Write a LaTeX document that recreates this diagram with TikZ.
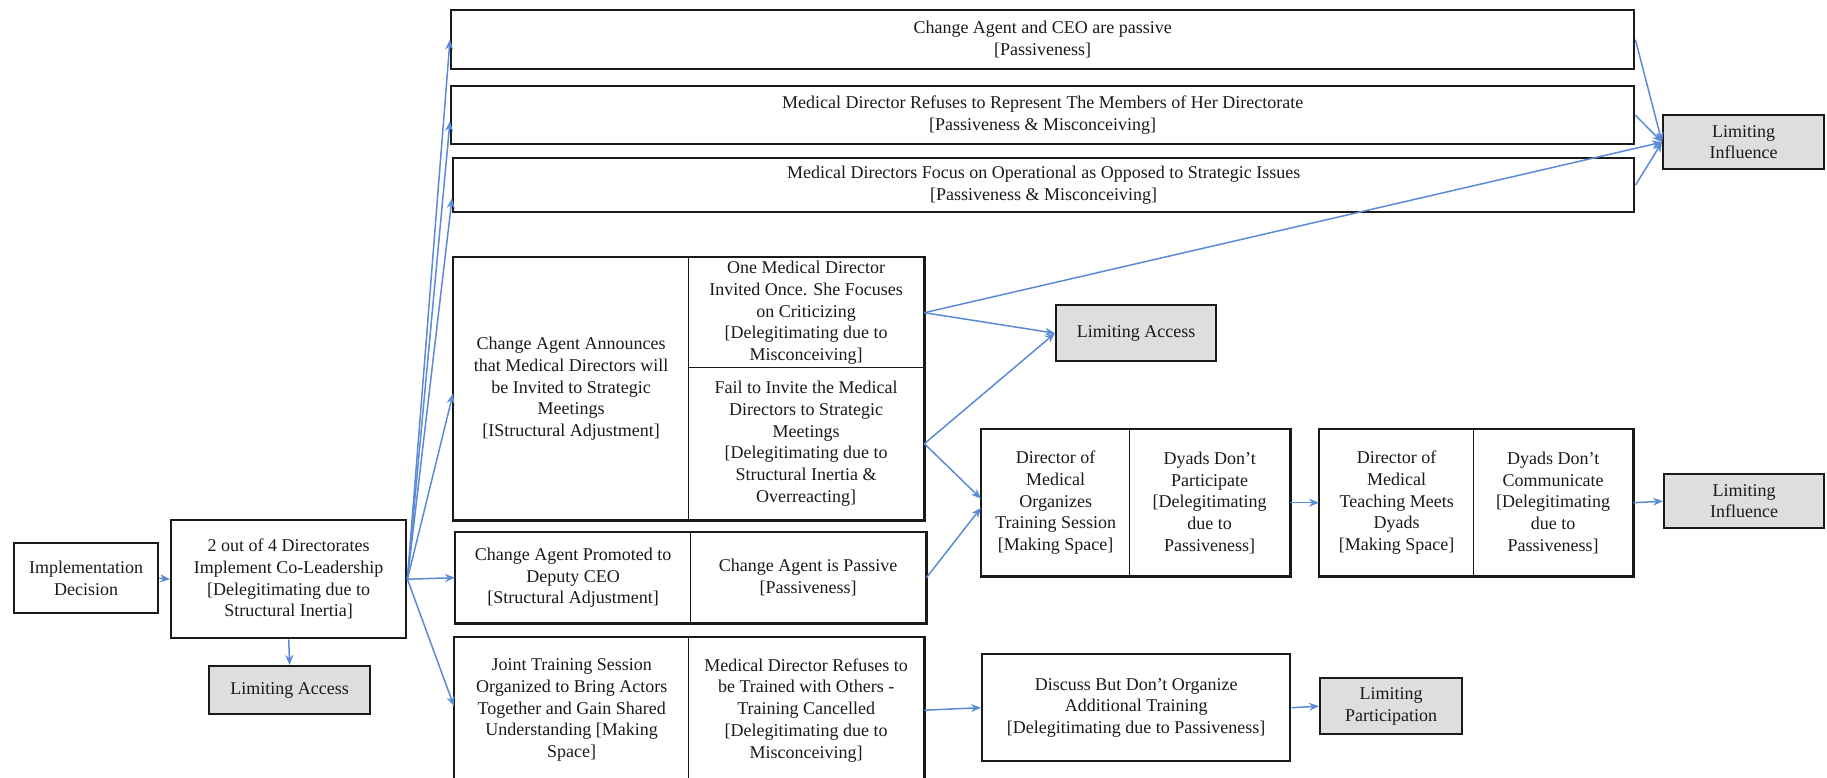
\documentclass[tikz,border=0pt]{standalone}
\usepackage{fontspec}
\setmainfont{Liberation Serif}
\usetikzlibrary{arrows.meta,calc}
\definecolor{flow}{HTML}{5B8BD6}
\definecolor{limitfill}{HTML}{DEDEDE}
\definecolor{ink}{HTML}{1A1A1A}
\begin{document}
\begin{tikzpicture}[x=1pt,y=-1pt,
  txt/.style={font=\fontsize{18}{21.7}\selectfont, align=center, text=ink, inner sep=0pt},
  wh/.style 2 args={minimum width=#1pt, minimum height=#2pt},
  box/.style={txt, draw=ink, line width=2.4pt, anchor=north west},
  cell/.style={txt, draw=ink, line width=1.4pt, anchor=north west},
  limitbox/.style={box, fill=limitfill},
  frame/.style={draw=ink, line width=2.4pt},
  flowarrow/.style={draw=flow, line width=1.5pt, -{Stealth[length=10pt,width=8pt]}},
]
\useasboundingbox (0,0) rectangle (1827,778);

% left column
\node[box, wh={144}{70}] (impl) at (13,542) {Implementation\\Decision};
\node[box, wh={235}{118}] (coimpl) at (170,519) {2 out of 4 Directorates\\Implement Co-Leadership\\{}[Delegitimating due to\\Structural Inertia]};
\node[limitbox, wh={161}{48}] (accessA) at (208,665) {Limiting Access};

% wide boxes at the top
\node[box, wh={1183}{59}] (passiveTop) at (450,9) {Change Agent and CEO are passive\\{}[Passiveness]};
\node[box, wh={1183}{58}] (refuseTop) at (450,85) {Medical Director Refuses to Represent The Members of Her Directorate\\{}[Passiveness \& Misconceiving]};
\node[box, wh={1181}{54}] (focusTop) at (452,157) {Medical Directors Focus on Operational as Opposed to Strategic Issues\\{}[Passiveness \& Misconceiving]};
\node[limitbox, wh={161}{54}] (influenceA) at (1662,114) {Limiting\\Influence};

% announcement block
\node[cell, wh={235}{262}] (announce) at (453,257) {Change Agent Announces\\that Medical Directors will\\be Invited to Strategic\\Meetings\\{}[IStructural Adjustment]};
\node[cell, wh={235}{110}] (invitedOnce) at (688,257) {One Medical Director\\Invited Once. She Focuses\\on Criticizing\\{}[Delegitimating due to\\Misconceiving]};
\node[cell, wh={235}{152}] (failInvite) at (688,367) {Fail to Invite the Medical\\Directors to Strategic\\Meetings\\{}[Delegitimating due to\\Structural Inertia \&\\Overreacting]};
\draw[frame] (announce.north west) rectangle (failInvite.south east);
\node[limitbox, wh={160}{56}] (accessB) at (1055,304) {Limiting Access};

% promotion block
\node[cell, wh={235}{90}] (promoted) at (455,532) {Change Agent Promoted to\\Deputy CEO\\{}[Structural Adjustment]};
\node[cell, wh={235}{90}] (agentPassive) at (690,532) {Change Agent is Passive\\{}[Passiveness]};
\draw[frame] (promoted.north west) rectangle (agentPassive.south east);

% joint training block
\node[cell, wh={234}{145}] (jointL) at (454,637) {Joint Training Session\\Organized to Bring Actors\\Together and Gain Shared\\Understanding [Making\\Space]};
\node[cell, wh={235}{145}] (jointR) at (688,637) {Medical Director Refuses to\\be Trained with Others -\\Training Cancelled\\{}[Delegitimating due to\\Misconceiving]};
\draw[frame] (jointL.north west) rectangle (jointR.south east);

% director blocks
\node[cell, wh={148}{146}] (dirOrg) at (981,429) {Director of\\Medical\\Organizes\\Training Session\\{}[Making Space]};
\node[cell, wh={160}{146}] (dyadsPart) at (1129,429) {Dyads Don’t\\Participate\\{}[Delegitimating\\due to\\Passiveness]};
\draw[frame] (dirOrg.north west) rectangle (dyadsPart.south east);
\node[cell, wh={154}{146}] (dirTeach) at (1319,429) {Director of\\Medical\\Teaching Meets\\Dyads\\{}[Making Space]};
\node[cell, wh={159}{146}] (dyadsComm) at (1473,429) {Dyads Don’t\\Communicate\\{}[Delegitimating\\due to\\Passiveness]};
\draw[frame] (dirTeach.north west) rectangle (dyadsComm.south east);
\node[limitbox, wh={160}{54}] (influenceB) at (1663,473) {Limiting\\Influence};

% additional training
\node[box, wh={308}{107}] (discuss) at (981,653) {Discuss But Don’t Organize\\Additional Training\\{}[Delegitimating due to Passiveness]};
\node[limitbox, wh={142}{56}] (participation) at (1319,677) {Limiting\\Participation};

% connectors
\draw[flowarrow] (impl.east) -- (coimpl.west);
\draw[flowarrow] (coimpl.south) -- (accessA.north);
\draw[flowarrow] (coimpl.east) -- (passiveTop.west);
\draw[flowarrow] (coimpl.east) -- ([yshift=-6pt]refuseTop.west);
\draw[flowarrow] (coimpl.east) -- ([yshift=-13pt]focusTop.west);
\draw[flowarrow] (coimpl.east) -- ([yshift=-5pt]announce.west);
\draw[flowarrow] (coimpl.east) -- (promoted.west);
\draw[flowarrow] (coimpl.east) -- ([yshift=4pt]jointL.west);

\draw[flowarrow] (passiveTop.east) -- (influenceA.west);
\draw[flowarrow] (refuseTop.east) -- (influenceA.west);
\draw[flowarrow] (focusTop.east) -- (influenceA.west);
\draw[flowarrow] (invitedOnce.east) -- (influenceA.west);
\draw[flowarrow] (invitedOnce.east) -- (accessB.west);
\draw[flowarrow] (failInvite.east) -- (accessB.west);
\draw[flowarrow] (failInvite.east) -- ([yshift=4pt]dirOrg.west);
\draw[flowarrow] (agentPassive.east) -- ([yshift=-5pt]dirOrg.west);
\draw[flowarrow] (dyadsPart.east) -- (dirTeach.west);
\draw[flowarrow] (dyadsComm.east) -- (influenceB.west);
\draw[flowarrow] (jointR.east) -- (discuss.west);
\draw[flowarrow] (discuss.east) -- (participation.west);
\end{tikzpicture}
\end{document}
